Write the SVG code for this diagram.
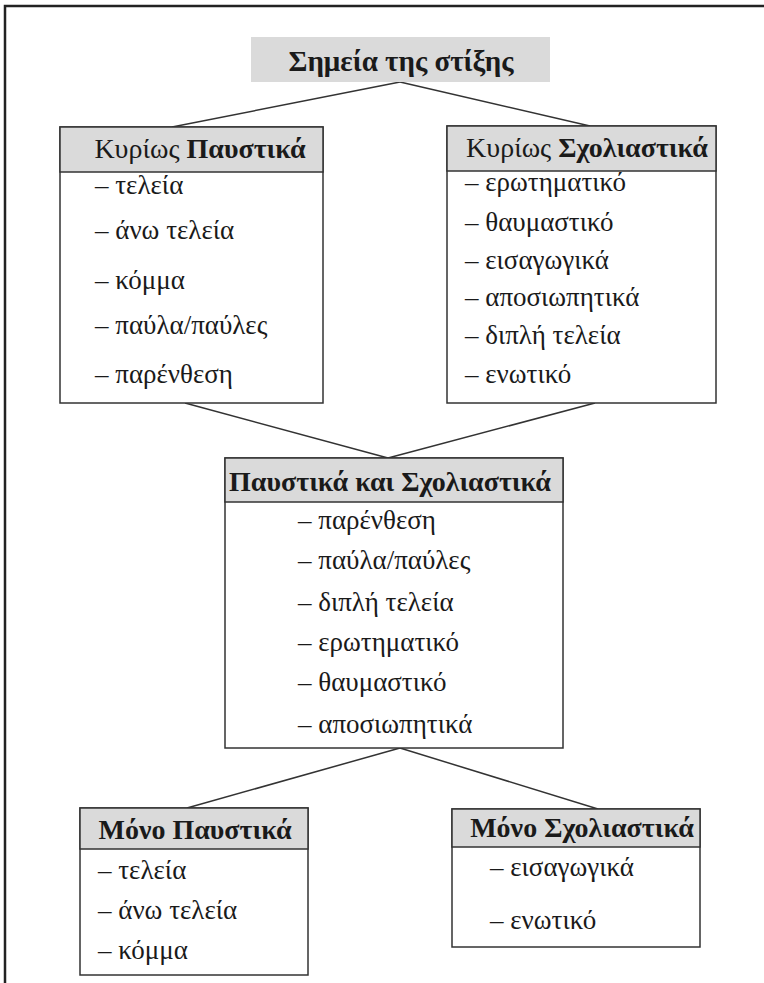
<svg xmlns="http://www.w3.org/2000/svg" width="764" height="983" viewBox="0 0 764 983">
<style>
.frame{fill:none;stroke:#222;stroke-width:2.5}
.box{fill:#fff;stroke:#333;stroke-width:1.5}
.hd{fill:#dadada;stroke:#333;stroke-width:1.5}
.ttl{fill:#dadada}
.con{stroke:#333;stroke-width:1.5;fill:none}
text{font-family:"Liberation Serif","DejaVu Serif",serif;fill:#1a1a1a}
.h{font-size:28px}
.t{font-size:29px}
.b{font-weight:bold}
.it{font-size:27px}
</style>
<rect width="764" height="983" fill="#fff"/>
<path class="frame" d="M5,983 V6 H764"/>
<g id="connectors">
<line class="con" x1="400" y1="82" x2="172" y2="127"/>
<line class="con" x1="400" y1="82" x2="590" y2="126"/>
<line class="con" x1="185" y1="403" x2="388" y2="458"/>
<line class="con" x1="595" y1="403" x2="388" y2="458"/>
<line class="con" x1="400" y1="748" x2="187" y2="808"/>
<line class="con" x1="400" y1="748" x2="598" y2="809"/>
</g>
<g id="title">
<rect class="ttl" x="251" y="37" width="299" height="45"/>
<text class="t b" x="401" y="71" text-anchor="middle">Σημεία της στίξης</text>
</g>
<g id="kyrios-paystika">
<rect class="box" x="60" y="127" width="263" height="276"/>
<rect class="hd" x="60" y="127" width="263" height="45"/>
<text class="h" x="200" y="158" text-anchor="middle">Κυρίως <tspan class="b">Παυστικά</tspan></text>
<text class="it" x="95" y="194">– τελεία</text>
<text class="it" x="95" y="239">– άνω τελεία</text>
<text class="it" x="95" y="289">– κόμμα</text>
<text class="it" x="95" y="334">– παύλα/παύλες</text>
<text class="it" x="95" y="383">– παρένθεση</text>
</g>
<g id="kyrios-scholiastika">
<rect class="box" x="447" y="126" width="269" height="277"/>
<rect class="hd" x="447" y="126" width="269" height="45"/>
<text class="h" x="587" y="157" text-anchor="middle">Κυρίως <tspan class="b">Σχολιαστικά</tspan></text>
<text class="it" x="465" y="191">– ερωτηματικό</text>
<text class="it" x="465" y="231">– θαυμαστικό</text>
<text class="it" x="465" y="269">– εισαγωγικά</text>
<text class="it" x="465" y="306">– αποσιωπητικά</text>
<text class="it" x="465" y="344">– διπλή τελεία</text>
<text class="it" x="465" y="383">– ενωτικό</text>
</g>
<g id="paystika-kai-scholiastika">
<rect class="box" x="225" y="458" width="338" height="290"/>
<rect class="hd" x="225" y="458" width="338" height="44"/>
<text class="h b" x="390" y="491" text-anchor="middle">Παυστικά και Σχολιαστικά</text>
<text class="it" x="298" y="529">– παρένθεση</text>
<text class="it" x="298" y="569">– παύλα/παύλες</text>
<text class="it" x="298" y="611">– διπλή τελεία</text>
<text class="it" x="298" y="651">– ερωτηματικό</text>
<text class="it" x="298" y="691">– θαυμαστικό</text>
<text class="it" x="298" y="733">– αποσιωπητικά</text>
</g>
<g id="mono-paystika">
<rect class="box" x="80" y="808" width="228" height="167"/>
<rect class="hd" x="80" y="808" width="228" height="41"/>
<text class="h b" x="195" y="839" text-anchor="middle">Μόνο Παυστικά</text>
<text class="it" x="98" y="879">– τελεία</text>
<text class="it" x="98" y="919">– άνω τελεία</text>
<text class="it" x="98" y="959">– κόμμα</text>
</g>
<g id="mono-scholiastika">
<rect class="box" x="452" y="809" width="248" height="138"/>
<rect class="hd" x="452" y="809" width="248" height="38"/>
<text class="h b" x="582" y="837" text-anchor="middle">Μόνο Σχολιαστικά</text>
<text class="it" x="490" y="876">– εισαγωγικά</text>
<text class="it" x="490" y="929">– ενωτικό</text>
</g>
</svg>
